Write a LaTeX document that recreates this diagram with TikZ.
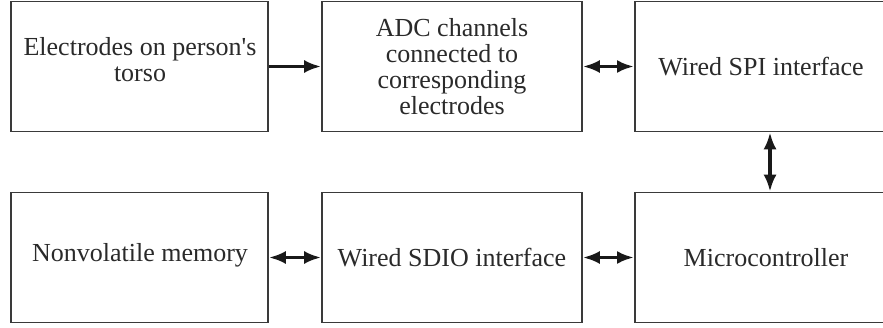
\documentclass[tikz,border=0pt]{standalone}
\usepackage{fontspec}
\setmainfont{Liberation Serif}[Ligatures=TeXOff]
\usetikzlibrary{arrows.meta}
\definecolor{boxline}{HTML}{3A3A3A}
\definecolor{txt}{HTML}{2A2A2A}
\begin{document}
\begin{tikzpicture}[x=1pt,y=1pt,
  blk/.style={draw=boxline, line width=1.6pt, fill=white, minimum height=130pt,
    align=center, text=txt, font=\fontsize{26}{26}\selectfont, inner sep=0pt},
  lbl/.style={align=center, text=txt, font=\fontsize{26}{26}\selectfont, inner sep=0pt},
  link/.style={line width=3.4pt, black!90, {Latex[length=17pt,width=13pt]}-{Latex[length=17pt,width=13pt]}},
  onelink/.style={line width=3.4pt, black!90, -{Latex[length=17pt,width=13pt]}}]
\clip (0,0) rectangle (883,327);
\fill[white] (0,0) rectangle (883,327);
\node[blk, minimum width=257pt] (b1) at (139.5,260.5) {};
\node[lbl] (t1) at (140,267) {Electrodes on person's\\torso};
\node[blk, minimum width=260pt] (b2) at (452,260.5) {ADC channels\\connected to\\corresponding\\electrodes};
\node[blk, minimum width=266pt, anchor=west] (b3) at (634,260.5) {};
\node[lbl] (t3) at (761,260.5) {Wired SPI interface};
\node[blk, minimum width=257pt] (b4) at (139.5,69.5) {};
\node[lbl] (t4) at (140,72) {Nonvolatile memory};
\node[blk, minimum width=260pt] (b5) at (452,69.5) {Wired SDIO interface};
\node[blk, minimum width=266pt, anchor=west] (b6) at (634,69.5) {};
\node[lbl] (t6) at (766,69.5) {Microcontroller};
\coordinate (vx) at (770,0);
\draw[onelink] (b1.east) -- (b2.west);
\draw[link] (b2.east) -- (b3.west);
\draw[link] (b4.east) -- (b5.west);
\draw[link] (b5.east) -- (b6.west);
\draw[link] (b3.south -| vx) -- (b6.north -| vx);
\end{tikzpicture}
\end{document}
